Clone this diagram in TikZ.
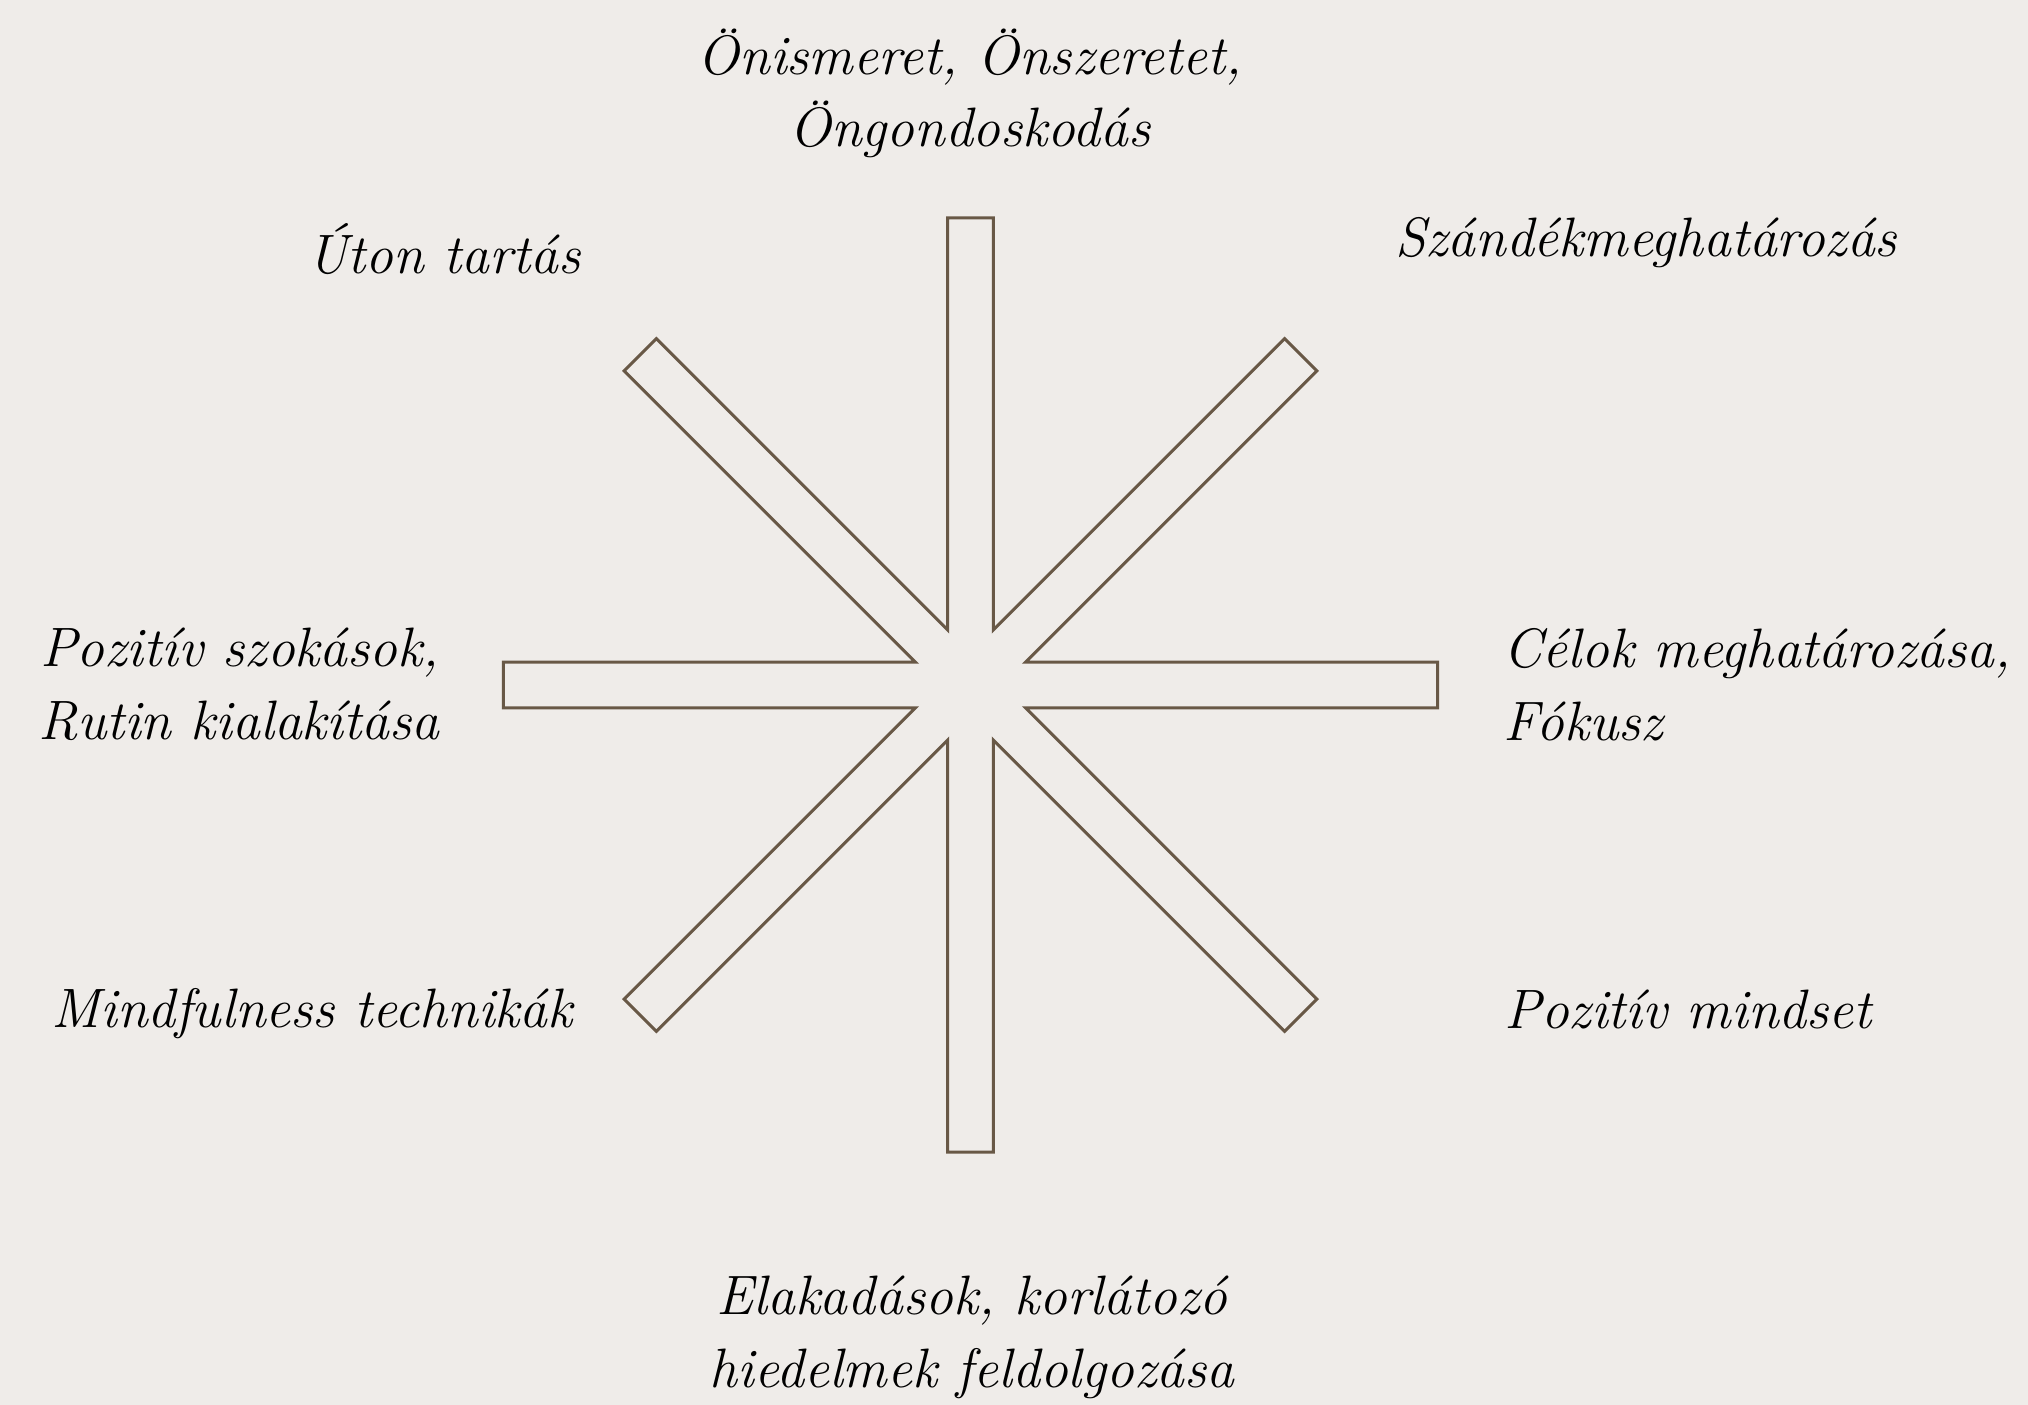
\documentclass[tikz,border=0pt]{standalone}
\usepackage{fontspec}
\usepackage{xcolor}
\usepackage{tikz}
\usetikzlibrary{positioning}
\definecolor{paper}{RGB}{239,236,233}
\definecolor{bark}{RGB}{104,88,70}

\begin{document}
\begin{tikzpicture}[x=0.1mm,y=-0.1mm,
 starline/.style={draw=bark,line width=0.85pt,line join=miter},
 lbl/.style={inner sep=0pt,text=black,
   font=\fontsize{15.8}{20.5}\selectfont\itshape}]
 \fill[paper] (0,0) rectangle (2028,1405);
 \useasboundingbox (0,0) rectangle (2028,1405);
 \coordinate (hub) at (970.5,685);
 \draw[starline] ([shift={(-22.5:59.6)}]hub)
   \foreach \a in {0,45,...,315}{
     -- ([shift={(\a-2.8:467.6)}]hub) -- ([shift={(\a+2.8:467.6)}]hub)
     -- ([shift={(\a+22.5:59.6)}]hub)} -- cycle;
 \node[lbl,align=center,anchor=base] (self) at (970,147)
   {Önismeret, Önszeretet,\\Öngondoskodás};
 \node[lbl,anchor=base] (ontrack) at (444,274) {Úton tartás};
 \node[lbl,anchor=base] (intent) at (1646,257) {Szándékmeghatározás};
 \node[lbl,align=right,anchor=base east] (habits) at (440,739)
   {Pozitív szokások,\\Rutin kialakítása};
 \node[lbl,align=left,anchor=base west] (goals) at (1503,740)
   {Célok meghatározása,\\Fókusz};
 \node[lbl,anchor=base] (mindful) at (312,1027) {Mindfulness technikák};
 \node[lbl,anchor=base] (mindset) at (1688,1028) {Pozitív mindset};
 \node[lbl,align=center,anchor=base] (blocks) at (972,1387)
   {Elakadások, korlátozó\\hiedelmek feldolgozása};
\end{tikzpicture}
\end{document}
